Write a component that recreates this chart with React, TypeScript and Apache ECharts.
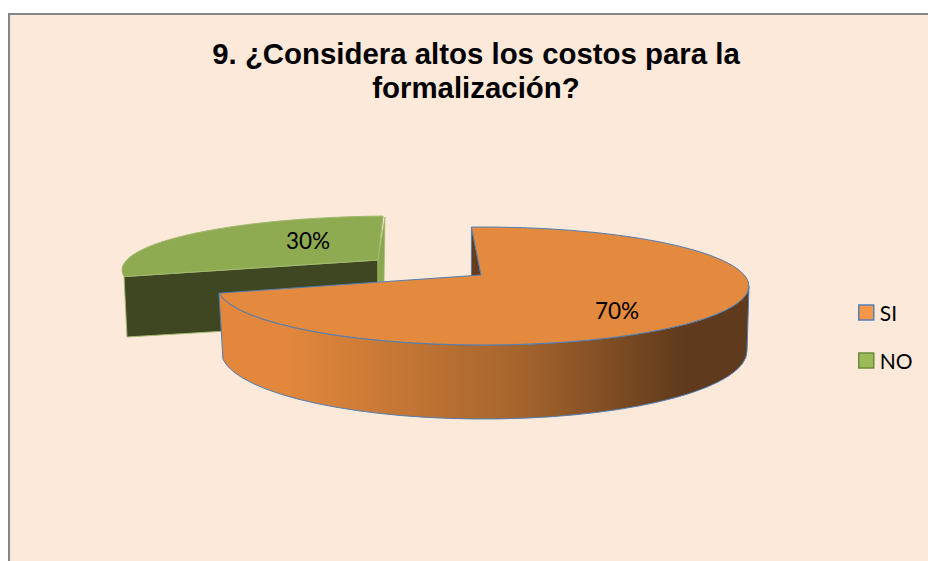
import React, { useEffect, useRef } from "react";
import * as echarts from "echarts";

const titleLines = ["9. ¿Considera altos los costos para la", "formalización?"];
const sliceNames = ["SI", "NO"];
const sliceValues = [70, 30];

const ROTATION = -2.5;
const WARP = 16.7;

const sliceStyles: any = {
  SI: {
    apex: [481, 275],
    top: { cx: 483, cy: 286, rx: 266, ry: 59 },
    bottom: { cx: 484, cy: 351, rx: 263, ry: 68 },
    fill: "#e38a3e",
    stroke: "#4f7fb5",
    labelAt: [0.66, 0.65],
    labelCenter: [483, 286],
  },
  NO: {
    apex: [378, 260],
    top: { cx: 395, cy: 270, rx: 273, ry: 54 },
    bottomLeft: [127, 337],
    bottomApex: [378, 322],
    side: [[385, 217], [378, 260], [378, 282], [384, 281]],
    fill: "#8fab52",
    stroke: "#a3b96f",
    labelPos: [308, 240],
  },
};

const screenAngle = (fraction: number) =>
  ROTATION + fraction * 360 + WARP * Math.sin((fraction * 360 * Math.PI) / 360);

const pt = (e: any, deg: number) => {
  const r = (deg * Math.PI) / 180;
  return [e.cx + e.rx * Math.sin(r), e.cy - e.ry * Math.cos(r)];
};
const fmt = (p: number[]) => `${p[0].toFixed(2)} ${p[1].toFixed(2)}`;
const arc = (e: any, to: number[], large: number, sweep: number) =>
  `A ${e.rx} ${e.ry} 0 ${large} ${sweep} ${fmt(to)}`;

function renderSlice(name: string) {
  return (_params: any, api: any) => {
    const value = api.value(0) as number;
    const idx = sliceNames.indexOf(name);
    const total = sliceValues.reduce((a, b) => a + b, 0);
    const before = sliceValues.slice(0, idx).reduce((a, b) => a + b, 0);
    const a0 = screenAngle(before / total);
    const a1 = screenAngle((before + value) / total);
    const s = sliceStyles[name];
    const large = a1 - a0 > 180 ? 1 : 0;
    const topPath = `M ${fmt(s.apex)} L ${fmt(pt(s.top, a0))} ${arc(s.top, pt(s.top, a1), large, 1)} Z`;
    const children: any[] = [];
    if (name === "SI") {
      const wall =
        `M ${fmt(pt(s.top, 90))} ${arc(s.top, pt(s.top, a1), 0, 1)} ` +
        `L ${fmt(pt(s.bottom, a1))} ${arc(s.bottom, pt(s.bottom, 90), 0, 0)} Z`;
      children.push({
        type: "path",
        shape: { pathData: wall },
        style: {
          fill: {
            type: "linear", x: 0, y: 0, x2: 1, y2: 0,
            colorStops: [
              { offset: 0, color: "#e2873c" },
              { offset: 0.13, color: "#e2873c" },
              { offset: 0.57, color: "#a5642d" },
              { offset: 0.88, color: "#5f3a1c" },
              { offset: 1, color: "#5f3a1c" },
            ],
          },
          stroke: s.stroke,
          lineWidth: 1,
        },
      });
      const p0 = pt(s.top, a0);
      children.push({
        type: "polygon",
        shape: { points: [p0, s.apex, [p0[0], s.apex[1] + 1]] },
        style: { fill: "#663d1c", stroke: s.stroke, lineWidth: 0.75 },
      });
    } else {
      const corner = pt(s.top, a0);
      children.push({
        type: "polygon",
        shape: { points: [s.apex, corner, s.bottomLeft, s.bottomApex] },
        style: { fill: "#3f4722", stroke: s.stroke, lineWidth: 1 },
      });
      children.push({
        type: "polygon",
        shape: { points: s.side },
        style: { fill: "#8aa84f", stroke: s.stroke, lineWidth: 0.75 },
      });
    }
    children.push({
      type: "path",
      shape: { pathData: topPath },
      style: { fill: s.fill, stroke: s.stroke, lineWidth: 1 },
    });
    let lx: number, ly: number;
    if (s.labelPos) {
      [lx, ly] = s.labelPos;
    } else {
      const mid = (((a0 + a1) / 2) * Math.PI) / 180;
      lx = s.labelCenter[0] + s.top.rx * s.labelAt[0] * Math.sin(mid);
      ly = s.labelCenter[1] - s.top.ry * s.labelAt[1] * Math.cos(mid);
    }
    children.push({
      type: "text",
      x: lx,
      y: ly,
      style: {
        text: `${Math.round((value / total) * 100)}%`,
        fill: "#000",
        font: "22.5px Lato",
        align: "center",
        verticalAlign: "middle",
      },
    });
    return { type: "group", children };
  };
}

export default function App() {
  const ref = useRef<HTMLDivElement>(null);
  useEffect(() => {
    const chart = echarts.init(ref.current!, null, { renderer: "svg" });
    chart.setOption({
      animation: false,
      backgroundColor: "#ffffff",
      graphic: [
        {
          type: "rect",
          z: -1,
          silent: true,
          shape: { x: 9, y: 14, width: 930, height: 560 },
          style: { fill: "#fde9d9", stroke: "#868686", lineWidth: 2 },
        },
      ],
      title: {
        text: titleLines.join("\n"),
        left: 476,
        top: 36,
        padding: 0,
        textAlign: "center",
        textStyle: {
          fontFamily: "Liberation Sans",
          fontWeight: "bold",
          fontSize: 29.4,
          lineHeight: 34,
          color: "#000",
        },
      },
      legend: {
        orient: "vertical",
        left: 858,
        top: 302,
        padding: 0,
        itemWidth: 15,
        itemHeight: 15,
        itemGap: 27,
        selectedMode: false,
        textStyle: { fontFamily: "Lato", fontSize: 21, color: "#000", padding: [0, 0, 2, 1] },
        data: [
          { name: "SI", icon: "rect", itemStyle: { color: "#f79646", borderColor: "#4f81bd", borderWidth: 1.5 } },
          { name: "NO", icon: "rect", itemStyle: { color: "#9bbb59", borderColor: "#71893f", borderWidth: 1.5 } },
        ],
      },
      series: [...sliceNames].reverse().map((name, i) => ({
        type: "custom",
        name,
        coordinateSystem: "none",
        z: 2 + i,
        renderItem: renderSlice(name),
        data: [{ name, value: sliceValues[sliceNames.indexOf(name)] }],
      })),
    });
    return () => chart.dispose();
  }, []);
  return <div ref={ref} style={{ position: "absolute", left: 0, top: 0, width: 928, height: 561 }} />;
}
